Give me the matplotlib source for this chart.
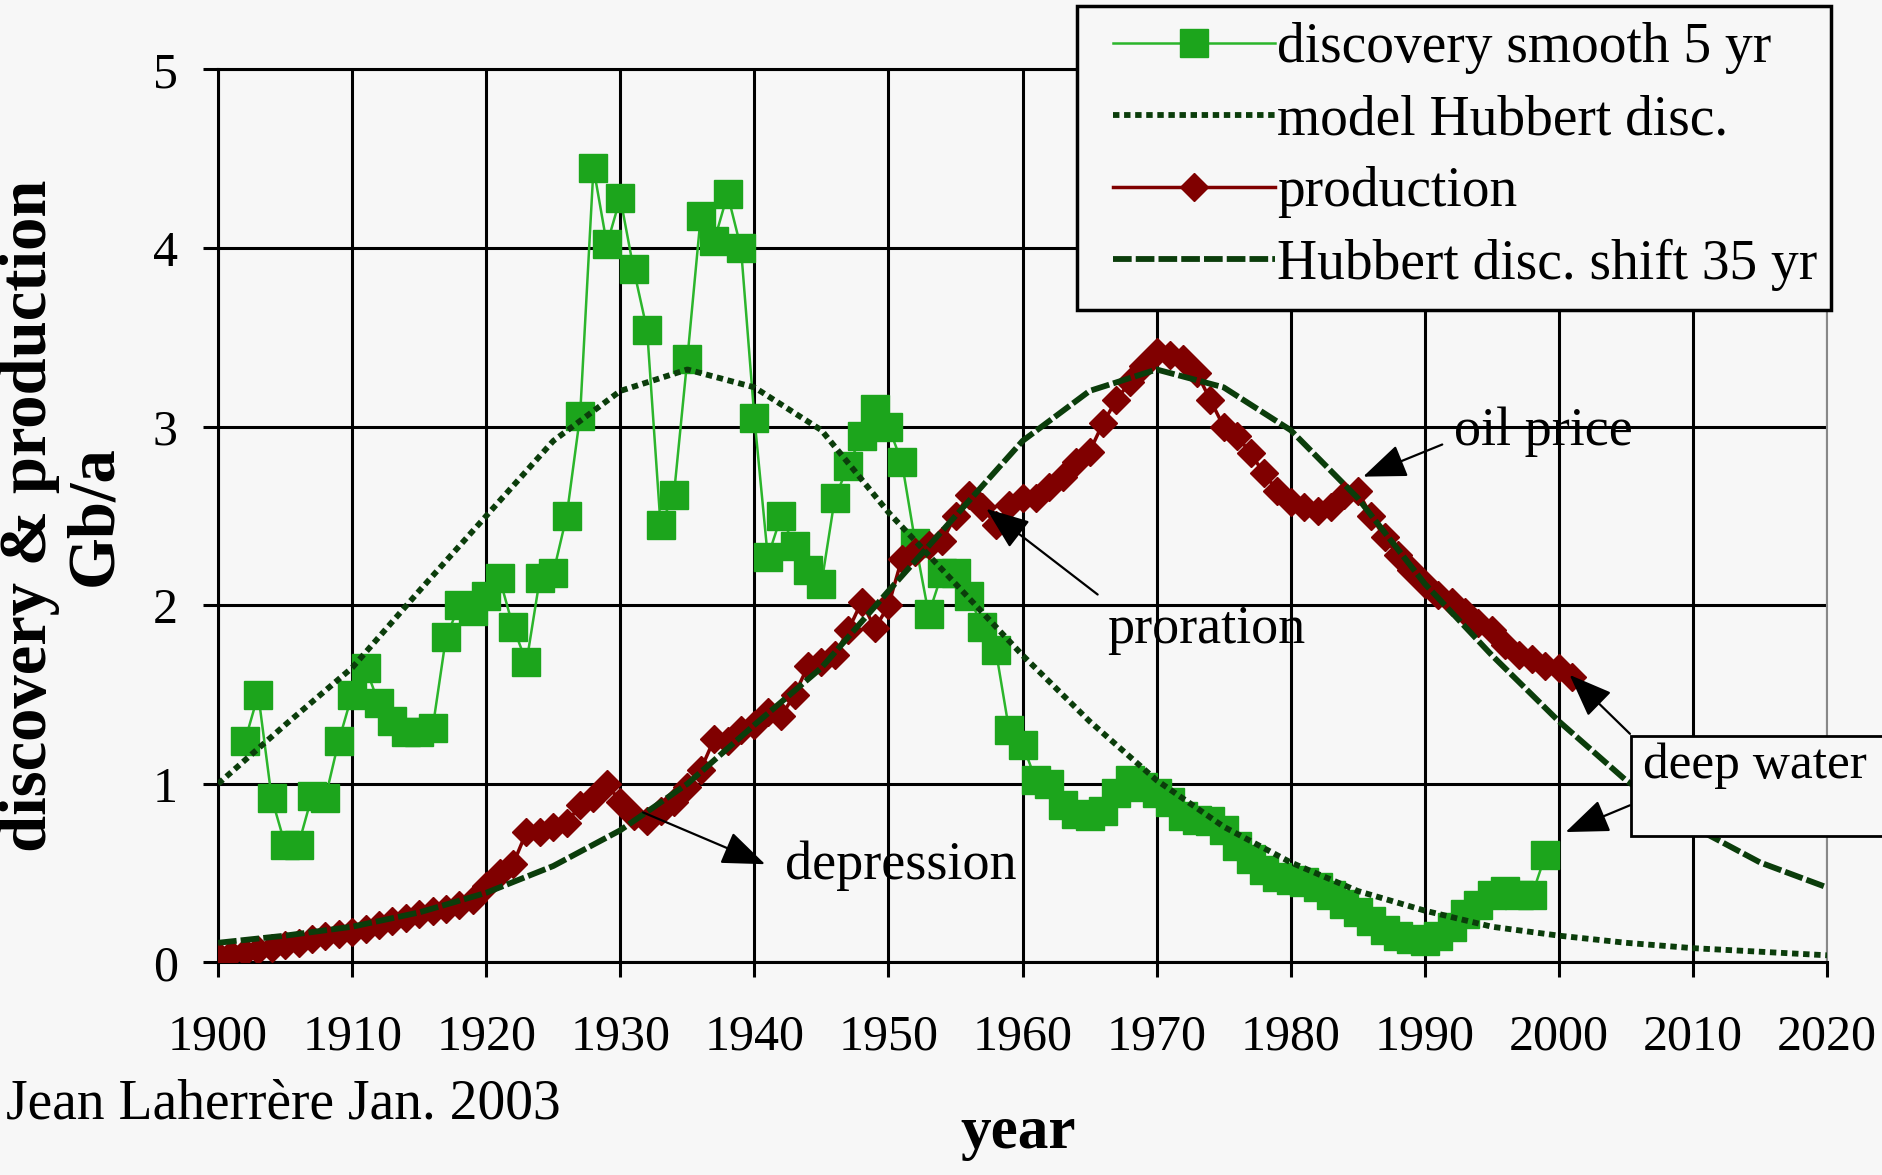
import matplotlib
matplotlib.use("Agg")
import matplotlib.pyplot as plt
from matplotlib.patches import Rectangle

plt.rcParams['font.family'] = ['Liberation Serif', 'DejaVu Serif']

# discovery, 5-year smoothed (Gb/a)
disc_years = list(range(1902, 2000))
disc_vals = [1.24, 1.50, 0.92, 0.66, 0.66, 0.93, 0.92, 1.24, 1.50,
             1.65, 1.45, 1.35, 1.29, 1.29, 1.31, 1.82, 2.00, 1.97, 2.05,
             2.15, 1.88, 1.68, 2.15, 2.18, 2.50, 3.06, 4.45, 4.02, 4.28,
             3.88, 3.54, 2.45, 2.62, 3.38, 4.18, 4.04, 4.30, 4.00, 3.05,
             2.27, 2.50, 2.33, 2.20, 2.12, 2.60, 2.78, 2.95, 3.10, 3.00,
             2.80, 2.35, 1.95, 2.18, 2.18, 2.05, 1.88, 1.75, 1.30, 1.22,
             1.02, 1.00, 0.88, 0.83, 0.82, 0.85, 0.95, 1.02, 0.98, 0.95,
             0.90, 0.82, 0.80, 0.79, 0.74, 0.65, 0.58, 0.52, 0.48, 0.46,
             0.45, 0.42, 0.38, 0.33, 0.28, 0.23, 0.18, 0.15, 0.13, 0.12,
             0.15, 0.20, 0.27, 0.32, 0.38, 0.40, 0.38, 0.38, 0.60]

# production (Gb/a)
prod_years = list(range(1900, 2002))
prod_vals = [0.04, 0.05, 0.06, 0.07, 0.08, 0.10, 0.11, 0.13, 0.15, 0.16,
             0.17, 0.19, 0.21, 0.23, 0.25, 0.27, 0.29, 0.30, 0.32, 0.35,
             0.43, 0.50, 0.55, 0.73, 0.73, 0.76, 0.78, 0.88, 0.92, 1.00,
             0.90, 0.82, 0.79, 0.85, 0.90, 0.98, 1.08, 1.25, 1.24, 1.30,
             1.33, 1.40, 1.38, 1.50, 1.66, 1.68, 1.72, 1.86, 2.02, 1.87,
             2.00, 2.26, 2.30, 2.34, 2.36, 2.50, 2.62, 2.55, 2.45, 2.56,
             2.60, 2.60, 2.66, 2.72, 2.80, 2.86, 3.02, 3.15, 3.25, 3.34,
             3.42, 3.40, 3.38, 3.30, 3.15, 3.00, 2.95, 2.85, 2.74, 2.64,
             2.58, 2.55, 2.53, 2.55, 2.62, 2.64, 2.50, 2.38, 2.28, 2.20,
             2.12, 2.06, 2.02, 1.96, 1.90, 1.86, 1.78, 1.72, 1.70, 1.66,
             1.65, 1.60]

# Hubbert model of discovery, and the same curve shifted 35 years
model_years = list(range(1900, 2021, 5))
model_vals = [1.00, 1.33, 1.65, 2.08, 2.50, 2.92, 3.20, 3.32, 3.22, 2.98,
              2.52, 2.12, 1.72, 1.35, 1.02, 0.76, 0.56, 0.40, 0.29, 0.20,
              0.15, 0.11, 0.08, 0.06, 0.04]
shift_years = list(range(1900, 2021, 5))
shift_vals = [0.11, 0.15, 0.20, 0.28, 0.39, 0.54, 0.74, 1.00, 1.33, 1.65,
              2.08, 2.50, 2.92, 3.20, 3.32, 3.22, 2.98, 2.60, 2.12, 1.72,
              1.35, 1.02, 0.76, 0.56, 0.42]

bg = '#f7f7f7'
c_disc = '#1ca51c'
c_prod = '#800000'
c_model = '#0b3d0b'

fig = plt.figure(figsize=(18.83, 11.75), dpi=100, facecolor=bg)
ax = fig.add_axes([0.1158, 0.1809, 0.8545, 0.7600], facecolor=bg)

l_disc, = ax.plot(disc_years, disc_vals, color='#2bb52b', lw=1.8, marker='s',
                  ms=20, mec=c_disc, mfc=c_disc, zorder=3,
                  label='discovery smooth 5 yr')
l_prod, = ax.plot(prod_years, prod_vals, color=c_prod, lw=2.5, marker='D',
                  ms=14.5, mec=c_prod, mfc=c_prod, zorder=4, label='production')
l_model, = ax.plot(model_years, model_vals, color=c_model, lw=4.2,
                   dashes=(1.1, 0.8), zorder=5, label='model Hubbert disc.')
l_shift, = ax.plot(shift_years, shift_vals, color=c_model, lw=4.2,
                   dashes=(3.2, 0.7), zorder=5, label='Hubbert disc. shift 35 yr')

ax.set_xlim(1900, 2020)
ax.set_ylim(0, 5)
ax.set_xticks(range(1900, 2021, 10))
ax.set_yticks(range(0, 6))
ax.grid(True, color='black', lw=2.2)
ax.set_axisbelow(True)
for s in ['left', 'bottom', 'top']:
    ax.spines[s].set_color('black')
    ax.spines[s].set_linewidth(2.2)
ax.spines['right'].set_color('#888888')
ax.spines['right'].set_linewidth(1.5)
ax.tick_params(axis='both', direction='out', length=11, width=2.2,
               labelsize=36)
ax.tick_params(axis='y', pad=18)
ax.tick_params(axis='x', pad=26)

arrow = dict(arrowstyle='-|>,head_length=0.9,head_width=0.35',
             mutation_scale=30, lw=1.6, color='black',
             shrinkA=0, shrinkB=0)
ax.annotate('', xy=(1985.4, 2.72), xytext=(1991.3, 2.90),
            arrowprops=arrow, zorder=7)
ax.text(1992.2, 2.97, 'oil price', fontsize=39, va='center', zorder=7)
ax.annotate('', xy=(1957.3, 2.54), xytext=(1965.6, 2.06),
            arrowprops=arrow, zorder=7)
ax.text(1966.3, 1.86, 'proration', fontsize=39, va='center', zorder=7)
ax.annotate('', xy=(1940.8, 0.55), xytext=(1931.7, 0.84),
            arrowprops=arrow, zorder=7)
ax.text(1942.3, 0.54, 'depression', fontsize=39, va='center', zorder=7)

ax.add_patch(Rectangle((2005.4, 0.71), 30, 0.56, facecolor=bg,
                       edgecolor='black', lw=2, clip_on=False, zorder=8))
ax.text(2006.3, 1.10, 'deep water', fontsize=37, va='center',
        clip_on=False, zorder=9)
ax.annotate('', xy=(2000.8, 1.61), xytext=(2005.3, 1.28),
            arrowprops=arrow, annotation_clip=False, zorder=9)
ax.annotate('', xy=(2000.5, 0.73), xytext=(2005.3, 0.88),
            arrowprops=arrow, annotation_clip=False, zorder=9)

# legend box drawn by hand so the padding can match the original
fig.add_artist(Rectangle((1077 / 1883, 1 - 310 / 1175), 754 / 1883,
                         304 / 1175, transform=fig.transFigure,
                         facecolor=bg, edgecolor='black', lw=2.5, zorder=4))
leg = fig.legend(handles=[l_disc, l_model, l_prod, l_shift],
                 loc='upper left', bbox_to_anchor=(1094 / 1883, 1 - 3 / 1175),
                 borderaxespad=0, fontsize=40, handlelength=2.9,
                 handletextpad=0.05, labelspacing=0.36, borderpad=0.35,
                 frameon=False)
leg.set_zorder(5)

fig.text(30 / 1883, 0.561, 'discovery & production', rotation=90,
         fontsize=48, fontweight='bold', ha='center', va='center')
fig.text(95 / 1883, 0.561, 'Gb/a', rotation=90, fontsize=48,
         fontweight='bold', ha='center', va='center')
fig.text(1018 / 1883, 0.036, 'year', fontsize=44, fontweight='bold',
         ha='center', va='center')
fig.text(6 / 1883, 0.0596, 'Jean Laherrère Jan. 2003', fontsize=40,
         ha='left', va='center')

fig.savefig('out.png', dpi=100, facecolor=bg)
